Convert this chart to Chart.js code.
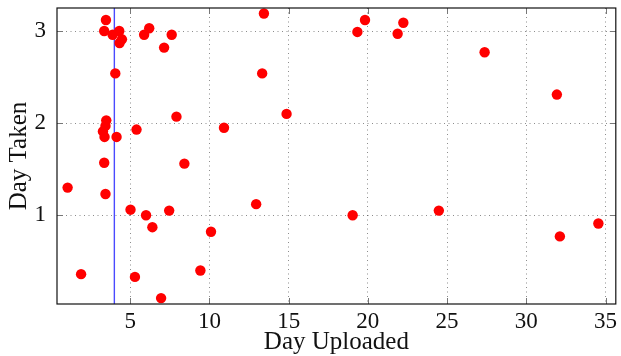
<!DOCTYPE html>
<html>
<head>
<meta charset="utf-8">
<script src="https://cdn.jsdelivr.net/npm/chart.js@4/dist/chart.umd.min.js"></script>
<style>
  html, body { margin: 0; padding: 0; background: #fff; }
  #wrap { width: 621px; height: 356px; }
</style>
</head>
<body>
<div id="wrap"><canvas id="chart" width="621" height="356"></canvas></div>
<script>
// data
const dayUploaded = [3.47, 3.36, 3.89, 4.31, 4.48, 4.33, 5.88, 6.2, 7.62, 7.14,
  13.44, 4.06, 13.33, 3.49, 3.44, 3.28, 3.38, 4.14, 5.4, 7.92, 10.92, 14.87,
  3.36, 8.42, 1.05, 3.44, 12.95, 5.02, 6.0, 7.46, 6.4, 10.1, 1.9, 5.3, 9.43, 6.95,
  19.82, 19.34, 22.24, 21.88, 27.37, 31.93, 19.04, 24.48, 32.12, 34.55];
const dayTaken = [3.12, 3.0, 2.96, 3.0, 2.91, 2.87, 2.96, 3.03, 2.96, 2.82,
  3.19, 2.54, 2.54, 2.03, 1.97, 1.91, 1.85, 1.85, 1.93, 2.07, 1.95, 2.1,
  1.57, 1.56, 1.3, 1.23, 1.12, 1.06, 1.0, 1.05, 0.87, 0.82, 0.36, 0.33, 0.4, 0.1,
  3.12, 2.99, 3.09, 2.97, 2.77, 2.31, 1.0, 1.05, 0.77, 0.91];
const markerDay = 4;
const xRange = [0.38, 35.65];
const yRange = [0.036, 3.25];

const serif = 'Liberation Serif';

/* frame and inward tick marks on all four sides, pgfplots style */
const framePlugin = {
  id: 'frame',
  afterDraw(chart) {
    const { ctx, chartArea: a, scales } = chart;
    ctx.save();
    ctx.strokeStyle = '#777';
    ctx.lineWidth = 1;
    const tl = 6;
    scales.x.ticks.forEach(t => {
      const px = Math.round(scales.x.getPixelForValue(t.value)) + 0.5;
      ctx.beginPath();
      ctx.moveTo(px, a.top); ctx.lineTo(px, a.top + tl);
      ctx.moveTo(px, a.bottom); ctx.lineTo(px, a.bottom - tl);
      ctx.stroke();
    });
    scales.y.ticks.forEach(t => {
      const py = Math.round(scales.y.getPixelForValue(t.value)) + 0.5;
      ctx.beginPath();
      ctx.moveTo(a.left, py); ctx.lineTo(a.left + tl, py);
      ctx.moveTo(a.right, py); ctx.lineTo(a.right - tl, py);
      ctx.stroke();
    });
    ctx.strokeStyle = '#111';
    ctx.lineWidth = 1.2;
    ctx.strokeRect(a.left, a.top, a.right - a.left, a.bottom - a.top);
    ctx.restore();
  }
};

const points = dayUploaded.map((x, i) => ({ x, y: dayTaken[i] }));

new Chart(document.getElementById('chart'), {
  type: 'scatter',
  data: {
    datasets: [
      { type: 'line', data: [{ x: markerDay, y: yRange[0] }, { x: markerDay, y: yRange[1] }],
        borderColor: '#4a4aff', borderWidth: 1.4, pointRadius: 0, order: 2 },
      { data: points, backgroundColor: '#ff0000', borderWidth: 0,
        pointRadius: 5.2, order: 1 }
    ]
  },
  options: {
    responsive: false,
    animation: false,
    layout: { padding: { left: 0, right: 4, top: 8, bottom: 0 } },
    plugins: { legend: { display: false }, tooltip: { enabled: false } },
    scales: {
      x: {
        type: 'linear', min: xRange[0], max: xRange[1],
        afterFit: s => { s.height = 52; s.paddingLeft = 0; s.paddingRight = 0; },
        ticks: { stepSize: 5, includeBounds: false, padding: 4, color: '#111',
          font: { family: serif, size: 23 } },
        grid: { color: 'rgba(0,0,0,0.45)', lineWidth: 1, drawTicks: false },
        border: { display: false, dash: [1, 3.5] },
        title: { display: true, text: 'Day Uploaded', color: '#111',
          font: { family: serif, size: 25, lineHeight: 1.1 }, padding: { top: 0, bottom: 0 } }
      },
      y: {
        type: 'linear', min: yRange[0], max: yRange[1],
        afterFit: s => { s.width = 57; s.paddingTop = 0; s.paddingBottom = 0; },
        ticks: { stepSize: 1, includeBounds: false, padding: 11, color: '#111',
          font: { family: serif, size: 23 } },
        grid: { color: 'rgba(0,0,0,0.45)', lineWidth: 1, drawTicks: false },
        border: { display: false, dash: [1, 3.5] },
        title: { display: true, text: 'Day Taken', color: '#111',
          font: { family: serif, size: 25, lineHeight: 1.2 }, padding: { top: 4, bottom: 0 } }
      }
    }
  },
  plugins: [framePlugin]
});
</script>
</body>
</html>
